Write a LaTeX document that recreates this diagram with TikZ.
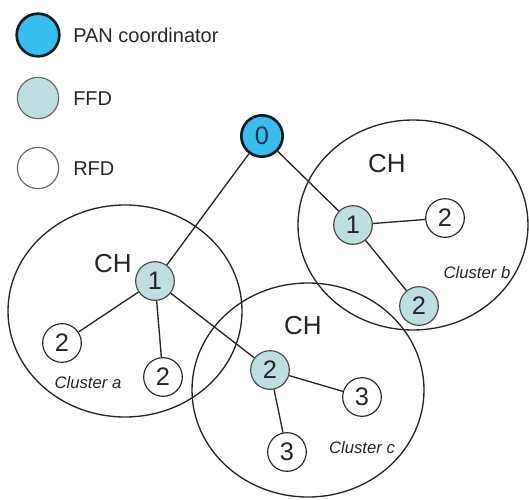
\documentclass[tikz,border=0pt]{standalone}
\usepackage{fontspec}
\setmainfont{Liberation Sans}
\definecolor{pancol}{HTML}{38BEEE}
\definecolor{pandark}{HTML}{0E1C28}
\definecolor{ffdcol}{HTML}{BEDEE0}
\definecolor{inkcol}{HTML}{262626}
\definecolor{zerocol}{HTML}{1C3550}
\begin{document}
\begin{tikzpicture}[x=0.75pt,y=-0.75pt,
  dev/.style={circle, inner sep=0pt, minimum size=29pt, text=inkcol,
    font=\fontsize{19}{19}\selectfont},
  pan/.style={dev, fill=pancol, draw=pandark, line width=2pt, minimum size=31pt, text=zerocol},
  ffd/.style={dev, fill=ffdcol, draw=inkcol!85, line width=0.85pt},
  rfd/.style={dev, fill=white, draw=inkcol, line width=0.85pt},
  cluster/.style={draw=inkcol, line width=1pt},
  link/.style={draw=inkcol, line width=1pt},
  chlabel/.style={text=inkcol, font=\fontsize{19.5}{20}\selectfont},
  clabel/.style={text=inkcol, font=\itshape\fontsize{12.5}{13}\selectfont},
  legtext/.style={anchor=west, text=inkcol, inner sep=0pt, font=\fontsize{15}{15}\selectfont}]
\useasboundingbox (0,0) rectangle (529,500);

% legend
\node[pan, minimum size=32pt] (lpan) at (38,35) {};
\node[legtext] (lpant) at (73,35) {PAN coordinator};
\node[ffd, draw=inkcol!70, minimum size=31pt] (lffd) at (38,98) {};
\node[legtext] (lffdt) at (73,99) {FFD};
\node[rfd, draw=inkcol!70, minimum size=31pt] (lrfd) at (38,168) {};
\node[legtext] (lrfdt) at (73,169) {RFD};

% cluster boundaries
\draw[cluster] (125,311) ellipse [x radius=117, y radius=106];
\draw[cluster] (413,225) ellipse [x radius=115, y radius=105];
\draw[cluster] (308,390) ellipse [x radius=116, y radius=107];

% devices
\node[pan] (n0) at (262,136) {0};
\node[ffd] (a1) at (155,281) {1};
\node[rfd] (a2l) at (62,343) {2};
\node[rfd] (a2r) at (163,377) {2};
\node[ffd] (b1) at (353,225) {1};
\node[rfd] (b2w) at (445,218) {2};
\node[ffd] (b2f) at (419,306) {2};
\node[ffd] (c2) at (270,370) {2};
\node[rfd] (c3r) at (362,397) {3};
\node[rfd] (c3b) at (287,452) {3};

% links
\draw[link] (n0) -- (a1);
\draw[link] (n0) -- (b1);
\draw[link] (a1) -- (a2l);
\draw[link] (a1) -- (a2r);
\draw[link] (a1) -- (c2);
\draw[link] (b1) -- (b2w);
\draw[link] (b1) -- (b2f);
\draw[link] (c2) -- (c3r);
\draw[link] (c2) -- (c3b);

% cluster-head and cluster labels
\node[chlabel] (cha) at (113,264) {CH};
\node[chlabel] (chb) at (387,164) {CH};
\node[chlabel] (chc) at (303,326) {CH};
\node[clabel] (cla) at (88,383) {Cluster a};
\node[clabel] (clb) at (477,273) {Cluster b};
\node[clabel] (clc) at (362,448) {Cluster c};
\end{tikzpicture}
\end{document}
